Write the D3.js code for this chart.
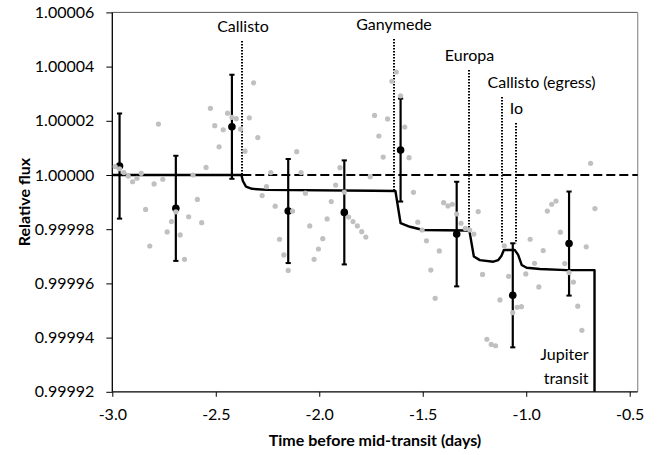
<!DOCTYPE html>
<html><head><meta charset="utf-8">
<script src="https://cdn.jsdelivr.net/npm/d3@7"></script>
<style>
html,body{margin:0;padding:0;background:#fff}
svg{display:block}
text{font-family:Lato,'Liberation Sans',sans-serif;fill:#000}
</style>
</head><body>
<svg id="chart" width="657" height="455"></svg>
<script>
// ---------- DATA ----------
const xTicks = [-3.0, -2.5, -2.0, -1.5, -1.0, -0.5];
const yTicks = [0.99992, 0.99994, 0.99996, 0.99998, 1.00000, 1.00002, 1.00004, 1.00006];
const xTitle = "Time before mid-transit (days)";
const yTitle = "Relative flux";

// unbinned photometry (grey points)
const rawTime = [
 -2.986,-2.965,-2.944,-2.923,-2.902,-2.881,-2.860,-2.839,-2.819,-2.798,
 -2.777,-2.756,-2.735,-2.714,-2.693,-2.672,-2.651,-2.631,-2.610,-2.589,
 -2.568,-2.547,-2.526,-2.505,-2.484,-2.464,-2.443,-2.422,-2.401,-2.380,
 -2.359,-2.338,-2.317,-2.297,-2.276,-2.255,-2.234,-2.213,-2.192,-2.171,
 -2.150,-2.129,-2.109,-2.088,-2.067,-2.046,-2.025,-2.004,-1.983,-1.962,
 -1.942,-1.921,-1.900,-1.879,-1.858,-1.837,-1.816,-1.795,-1.775,-1.754,
 -1.733,-1.712,-1.691,-1.670,-1.649,-1.628,-1.607,-1.587,-1.566,-1.545,
 -1.524,-1.503,-1.482,-1.461,-1.440,-1.420,-1.399,-1.378,-1.357,-1.336,
 -1.315,-1.294,-1.273,-1.253,-1.232,-1.211,-1.190,-1.169,-1.148,-1.127,
 -1.106,-1.085,-1.065,-1.044,-1.023,-1.002,-0.981,-0.960,-0.939,-0.918,
 -0.898,-0.877,-0.856,-0.835,-0.814,-0.793,-0.772,-0.751,-0.731,-0.710,
 -0.689,-0.668
];
const rawFlux = [
 1.0000031,1.0000023,1.0000009,0.9999996,0.9999975,0.9999988,1.0000006,0.9999873,0.9999738,0.9999967,
 1.0000188,0.9999984,0.9999790,0.9999828,0.9999864,0.9999779,0.9999689,0.9999846,1.0000000,0.9999910,
 0.9999824,1.0000028,1.0000246,1.0000182,1.0000104,1.0000167,1.0000228,1.0000213,1.0000208,1.0000169,
 1.0000088,1.0000211,1.0000340,1.0000138,0.9999924,0.9999957,1.0000009,0.9999885,0.9999763,0.9999705,
 0.9999648,0.9999867,1.0000086,1.0000009,0.9999933,0.9999812,0.9999689,0.9999727,0.9999765,0.9999838,
 0.9999902,0.9999963,1.0000027,0.9999937,0.9999845,0.9999828,0.9999812,0.9999791,0.9999771,0.9999994,
 1.0000220,1.0000144,1.0000066,1.0000207,1.0000346,1.0000380,1.0000292,1.0000177,1.0000064,0.9999936,
 0.9999826,0.9999797,0.9999757,0.9999649,0.9999545,0.9999720,0.9999898,0.9999886,0.9999892,0.9999856,
 0.9999822,0.9999803,0.9999797,0.9999782,0.9999865,0.9999633,0.9999394,0.9999375,0.9999370,0.9999539,
 0.9999739,0.9999626,0.9999492,0.9999512,0.9999514,0.9999635,0.9999763,0.9999674,0.9999587,0.9999721,
 0.9999867,0.9999892,0.9999904,0.9999789,0.9999673,0.9999640,0.9999605,0.9999516,0.9999427,0.9999735,
 1.0000043,0.9999876
];

// binned photometry (black points with error bars)
const binTime = [-2.965, -2.693, -2.422, -2.150, -1.879, -1.607, -1.336, -1.065, -0.793];
const binFlux = [1.0000033, 0.9999877, 1.0000178, 0.9999867, 0.9999862, 1.0000092, 0.9999782, 0.9999556, 0.9999747];
const binErr  = [0.0000194, 0.0000194, 0.0000192, 0.0000192, 0.0000192, 0.0000190, 0.0000193, 0.0000192, 0.0000192];

// model light curve (solid line)
const modelTime = [-3.000,-2.376,-2.369,-2.354,-2.325,-2.254,-1.739,-1.632,-1.607,-1.562,-1.498,
  -1.288,-1.274,-1.253,-1.224,-1.159,-1.135,-1.120,-1.108,-1.055,-1.039,-1.022,-0.998,-0.934,-0.805,-0.670,-0.670];
const modelFlux = [1.0000000,1.0000000,0.9999978,0.9999957,0.9999949,0.9999945,0.9999942,0.9999941,0.9999822,0.9999809,0.9999797,
  0.9999795,0.9999792,0.9999699,0.9999686,0.9999680,0.9999686,0.9999701,0.9999723,0.9999723,0.9999705,0.9999668,0.9999658,0.9999653,0.9999649,0.9999649,0.99992];

// moon events (dotted markers)
const eventName = ["Callisto", "Ganymede", "Europa", "Callisto (egress)", "Io"];
const eventTime = [-2.375, -1.639, -1.275, -1.117, -1.051];
const eventTopFlux = [1.0000496, 1.0000502, 1.0000387, 1.0000287, 1.0000191];
const eventBottomFlux = [1.0000000, 0.9999943, 0.9999796, 0.9999745, 0.9999748];
const transitLabel = ["Jupiter", "transit"];

// ---------- LAYOUT ----------
const L = 112.3, R = 637.7, T = 12.4, B = 391.8;
const svg = d3.select("#chart");

const x = d3.scaleLinear().domain([-3.0, -0.5]).range([L, 629.7]);
const y = d3.scaleLinear().domain([0.99992, 1.00006]).range([B, T]);

// plot frame (top/right light)
svg.append("line").attr("x1", L).attr("x2", R).attr("y1", T).attr("y2", T)
  .attr("stroke", "#595959").attr("stroke-width", 1);
svg.append("line").attr("x1", R).attr("x2", R).attr("y1", T).attr("y2", B)
  .attr("stroke", "#9a9a9a").attr("stroke-width", 1.3);

// axes
const yAxis = d3.axisLeft(y).tickValues(yTicks).tickFormat(d3.format(".5f")).tickSize(6).tickPadding(12);
const gy = svg.append("g").attr("transform", `translate(${L},0)`).call(yAxis);
const xAxis = d3.axisBottom(x).tickValues(xTicks).tickFormat(d => d.toFixed(1)).tickSize(5).tickPadding(12);
const gx = svg.append("g").attr("transform", `translate(0,${B})`).call(xAxis);
[gx, gy].forEach(g => {
  g.select(".domain").remove();
  g.selectAll(".tick line").attr("stroke", "#000").attr("stroke-width", 1);
  g.selectAll(".tick text").style("font-family", "Lato, 'Liberation Sans', sans-serif").style("font-size", "16px").attr("fill", "#000");
});
svg.append("line").attr("x1", L).attr("x2", L).attr("y1", T).attr("y2", B).attr("stroke", "#000").attr("stroke-width", 1.3);
svg.append("line").attr("x1", L).attr("x2", R).attr("y1", B).attr("y2", B).attr("stroke", "#000").attr("stroke-width", 1.3);

// axis titles
svg.append("text").attr("x", (L + R) / 2).attr("y", 446).attr("text-anchor", "middle")
  .style("font-size", "16px").style("font-weight", "bold").text(xTitle);
svg.append("text").attr("transform", `translate(30,${(T + B) / 2}) rotate(-90)`).attr("text-anchor", "middle")
  .style("font-size", "16px").style("font-weight", "bold").text(yTitle);

// dashed baseline at flux = 1
svg.append("line").attr("x1", L).attr("x2", R).attr("y1", y(1)).attr("y2", y(1))
  .attr("stroke", "#000").attr("stroke-width", 2).attr("stroke-dasharray", "9,4");

// model line
const modelPts = modelTime.map((t, i) => [t, modelFlux[i]]);
svg.append("path").datum(modelPts)
  .attr("d", d3.line().x(d => x(d[0])).y(d => y(d[1])))
  .attr("fill", "none").attr("stroke", "#000").attr("stroke-width", 2.4).attr("stroke-linejoin", "round");

// event markers
const labelLayout = [
  {dx: 1, anchor: "middle"}, {dx: 0, anchor: "middle"}, {dx: 0.5, anchor: "middle"},
  {dx: -14.5, anchor: "start"}, {dx: 0.5, anchor: "middle"}
];
eventName.forEach((name, i) => {
  const xp = Math.round(x(eventTime[i]));
  svg.append("line").attr("x1", xp).attr("x2", xp)
    .attr("y1", Math.round(y(eventTopFlux[i]))).attr("y2", y(eventBottomFlux[i]))
    .attr("stroke", "#000").attr("stroke-width", 2).attr("stroke-dasharray", "1.5,1.5");
  svg.append("text").attr("x", xp + labelLayout[i].dx).attr("y", y(eventTopFlux[i]) - 9)
    .attr("text-anchor", labelLayout[i].anchor).style("font-size", "16px").text(name);
});

// Jupiter transit label
const jx = x(modelTime[modelTime.length - 1]) - 6;
transitLabel.forEach((s, i) => {
  svg.append("text").attr("x", jx).attr("y", 360 + i * 24).attr("text-anchor", "end")
    .style("font-size", "16px").text(s);
});

// binned points with error bars
const bins = binTime.map((t, i) => ({t, f: binFlux[i], e: binErr[i]}));
const gb = svg.append("g");
bins.forEach(b => {
  const xp = x(b.t);
  gb.append("line").attr("x1", xp).attr("x2", xp).attr("y1", y(b.f + b.e)).attr("y2", y(b.f - b.e))
    .attr("stroke", "#000").attr("stroke-width", 2.2);
  [b.f + b.e, b.f - b.e].forEach(v => {
    gb.append("line").attr("x1", xp - 2.6).attr("x2", xp + 2.6).attr("y1", y(v)).attr("y2", y(v))
      .attr("stroke", "#000").attr("stroke-width", 2);
  });
  gb.append("circle").attr("cx", xp).attr("cy", y(b.f)).attr("r", 3.8).attr("fill", "#000");
});

// raw points
svg.append("g").selectAll("circle").data(rawTime.map((t, i) => [t, rawFlux[i]])).join("circle")
  .attr("cx", d => x(d[0])).attr("cy", d => y(d[1])).attr("r", 2.6).attr("fill", "#c0c0c0");
</script>
</body></html>
